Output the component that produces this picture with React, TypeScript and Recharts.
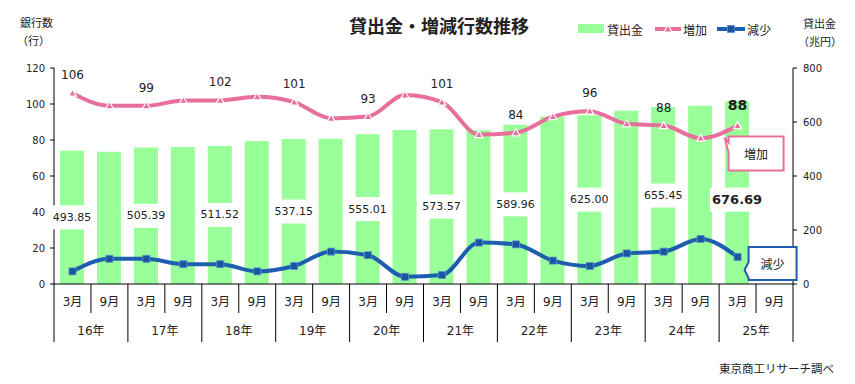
import React from "react";
import { ComposedChart, Bar, Line, XAxis, YAxis, LabelList } from "recharts";

// 貸出金(兆円)・増加/減少行数 — 16年3月〜25年9月 (25年9月は未発表)
const years = ["16年", "17年", "18年", "19年", "20年", "21年", "22年", "23年", "24年", "25年"];
const months = ["3月", "9月"];

const loans = [
  493.85, 490, 505.39, 507, 511.52, 530, 537.15, 538, 555.01, 570,
  573.57, 569, 589.96, 619, 625.0, 642, 655.45, 660, 676.69, null,
];
const loanLabels = [
  "493.85", null, "505.39", null, "511.52", null, "537.15", null, "555.01", null,
  "573.57", null, "589.96", null, "625.00", null, "655.45", null, "676.69", null,
];
const increases = [106, 99, 99, 102, 102, 104, 101, 92, 93, 105, 101, 83, 84, 93, 96, 89, 88, 81, 88, null];
const decreases = [7, 14, 14, 11, 11, 7, 10, 18, 16, 4, 5, 23, 22, 13, 10, 17, 18, 25, 15, null];

const leftTicks = [0, 20, 40, 60, 80, 100, 120];
const rightTicks = [0, 200, 400, 600, 800];

const GREEN = "#99ff99";
const PINK = "#e66f9b";
const BLUE = "#1d5fae";
const FONT = "'DejaVu Sans', 'Noto Sans CJK JP', sans-serif";
const JP = "'Noto Sans CJK JP', sans-serif";

const W = 855;
const H = 384;
const PLOT_LEFT = 54;
const PLOT_RIGHT = 793;
const PLOT_TOP = 68;
const PLOT_BOTTOM = 284;

const data = years.flatMap((year, i) =>
  months.map((month, j) => {
    const k = i * 2 + j;
    return {
      year,
      month,
      loan: loans[k],
      loanLabel: loanLabels[k],
      inc: increases[k],
      incLabel: j === 0 ? increases[k] : null,
      dec: decreases[k],
    };
  })
);

const SLOT = (PLOT_RIGHT - PLOT_LEFT) / data.length;
const lastIdx = data.reduce((acc, d, i) => (d.inc != null ? i : acc), 0);

function MonthTick(props: any) {
  const { x, payload } = props;
  const i = props.index ?? payload.index;
  const d = data[i];
  if (!d) return null;
  const left = x - SLOT / 2;
  const yearStart = d.month === months[0];
  return (
    <g>
      <line x1={left} x2={left} y1={PLOT_BOTTOM} y2={PLOT_BOTTOM + (yearStart ? 58 : 29)} stroke="#000" />
      {i === data.length - 1 && (
        <line x1={x + SLOT / 2} x2={x + SLOT / 2} y1={PLOT_BOTTOM} y2={PLOT_BOTTOM + 58} stroke="#000" />
      )}
      <text x={x} y={PLOT_BOTTOM + 18} textAnchor="middle" dominantBaseline="central" fontSize={12} fill="#222">
        {d.month}
      </text>
      {!yearStart && (
        <text x={left} y={PLOT_BOTTOM + 47} textAnchor="middle" dominantBaseline="central" fontSize={12} fill="#222">
          {d.year}
        </text>
      )}
    </g>
  );
}

function LoanLabel(props: any) {
  const { x, y, width, height, value, index } = props;
  if (value == null) return null;
  const bold = index === lastIdx;
  const fs = bold ? 13 : 11;
  const cx = x + width / 2;
  const cy = y + height / 2 + (bold ? 7 : 0);
  const bw = String(value).length * fs * 0.62 + 6;
  return (
    <g>
      <rect x={cx - bw / 2} y={cy - 12} width={bw} height={24} fill="#fff" />
      <text x={cx} y={cy} textAnchor="middle" dominantBaseline="central" fontSize={fs}
        fontWeight={bold ? "bold" : "normal"} fill="#222">
        {value}
      </text>
    </g>
  );
}

function IncLabel(props: any) {
  const { x, y, value, index } = props;
  if (value == null) return null;
  const bold = index === lastIdx;
  return (
    <text x={x} y={y - (bold ? 21 : 18)} textAnchor="middle" dominantBaseline="central"
      fontSize={bold ? 14 : 12} fontWeight={bold ? "bold" : "normal"} fill="#222">
      {value}
    </text>
  );
}

function IncCallout(props: any) {
  const { x, y, index } = props;
  if (index !== lastIdx) return null;
  const L = x - 9, T = y + 11, R = L + 55, B = T + 34;
  return (
    <g>
      <path d={`M${L},${T} H${R} V${B} H${L} V${T + 16} L${L - 4},${T + 1} L${L},${T + 6} Z`}
        fill="#fff" stroke={PINK} strokeWidth={2} />
      <text x={(L + R) / 2} y={(T + B) / 2} textAnchor="middle" dominantBaseline="central"
        fontSize={12} fontFamily={JP} fill="#222">増加</text>
    </g>
  );
}

function DecCallout(props: any) {
  const { x, y, index } = props;
  if (index !== lastIdx) return null;
  const L = x + 11, T = y - 10, R = L + 48, B = T + 33;
  return (
    <g>
      <path d={`M${L},${T} H${R} V${B} H${L} V${y + 21} L${x + 7},${y + 13} L${L},${y + 5} Z`}
        fill="#fff" stroke={BLUE} strokeWidth={2} />
      <text x={(L + R) / 2} y={(T + B) / 2} textAnchor="middle" dominantBaseline="central"
        fontSize={12} fontFamily={JP} fill="#222">減少</text>
    </g>
  );
}

function TriangleDot(props: any) {
  const { cx, cy } = props;
  if (cx == null || cy == null) return null;
  return (
    <polygon points={`${cx},${cy - 4} ${cx - 4},${cy + 3} ${cx + 4},${cy + 3}`}
      fill={PINK} stroke="#fff" strokeWidth={1.2} />
  );
}

function SquareDot(props: any) {
  const { cx, cy } = props;
  if (cx == null || cy == null) return null;
  return <rect x={cx - 3.5} y={cy - 3.5} width={7} height={7} fill="#1a55a0" stroke="#5d8fcf" strokeWidth={0.8} />;
}

export default function App() {
  return (
    <div style={{ position: "absolute", left: 0, top: 0, width: W, height: H, background: "#fff", fontFamily: FONT, overflow: "hidden" }}>
      <ComposedChart width={W} height={H} data={data} margin={{ top: PLOT_TOP, right: 0, bottom: 40, left: 0 }}>
        <XAxis dataKey="month" xAxisId={0} interval={0} height={60} tickLine={false} tickSize={0}
          axisLine={{ stroke: "#000" }} tick={<MonthTick />} />
        <YAxis yAxisId="left" orientation="left" width={PLOT_LEFT} domain={[0, 120]} ticks={leftTicks}
          tickSize={4} tickMargin={5} axisLine={{ stroke: "#000" }} tickLine={{ stroke: "#000" }}
          tick={{ fontSize: 10, fill: "#222" }} />
        <YAxis yAxisId="right" orientation="right" width={W - PLOT_RIGHT} domain={[0, 800]} ticks={rightTicks}
          tickSize={4} tickMargin={6} axisLine={{ stroke: "#000" }} tickLine={{ stroke: "#000" }}
          tick={{ fontSize: 10, fill: "#222", textAnchor: "start" }} />
        <Bar yAxisId="right" dataKey="loan" fill={GREEN} barSize={24} isAnimationActive={false}>
          <LabelList dataKey="loanLabel" content={<LoanLabel />} />
        </Bar>
        <Line yAxisId="left" dataKey="inc" type="monotone" stroke={PINK} strokeWidth={4}
          dot={<TriangleDot />} activeDot={false} isAnimationActive={false}>
          <LabelList dataKey="incLabel" content={<IncLabel />} />
          <LabelList dataKey="inc" content={<IncCallout />} />
        </Line>
        <Line yAxisId="left" dataKey="dec" type="monotone" stroke={BLUE} strokeWidth={4}
          dot={<SquareDot />} activeDot={false} isAnimationActive={false}>
          <LabelList dataKey="dec" content={<DecCallout />} />
        </Line>
      </ComposedChart>

      <svg width={W} height={H} style={{ position: "absolute", left: 0, top: 0, pointerEvents: "none" }}>
        <g fontFamily={JP} fill="#222">
          <text x={439} y={25} textAnchor="middle" dominantBaseline="central" fontSize={18} fontWeight="bold">
            貸出金・増減行数推移
          </text>
          <text x={20} y={22} dominantBaseline="central" fontSize={11}>銀行数</text>
          <text x={17} y={40} dominantBaseline="central" fontSize={11}>（行）</text>
          <text x={803} y={23} dominantBaseline="central" fontSize={11}>貸出金</text>
          <text x={798} y={41} dominantBaseline="central" fontSize={11}>（兆円）</text>

          <rect x={578} y={24} width={26} height={9} fill={GREEN} />
          <text x={607} y={29} dominantBaseline="central" fontSize={12}>貸出金</text>
          <line x1={655} x2={681} y1={29} y2={29} stroke={PINK} strokeWidth={4} />
          <TriangleDot cx={668} cy={29} />
          <text x={683} y={29} dominantBaseline="central" fontSize={12}>増加</text>
          <line x1={717} x2={745} y1={29} y2={29} stroke={BLUE} strokeWidth={4} />
          <SquareDot cx={731} cy={29} />
          <text x={747} y={29} dominantBaseline="central" fontSize={12}>減少</text>

          <text x={834} y={368} textAnchor="end" dominantBaseline="central" fontSize={11.5}>
            東京商工リサーチ調べ
          </text>
        </g>
      </svg>
    </div>
  );
}
